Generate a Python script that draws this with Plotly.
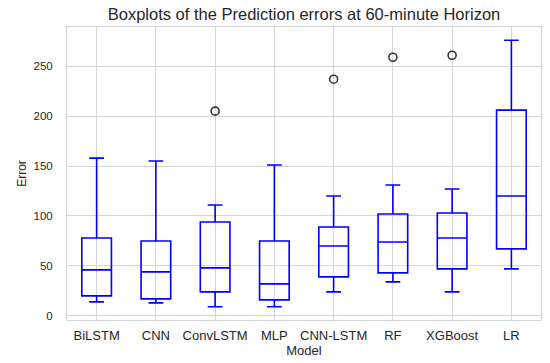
import plotly.graph_objects as go

models = ["BiLSTM", "CNN", "ConvLSTM", "MLP", "CNN-LSTM", "RF", "XGBoost", "LR"]
lower_whisker = [14, 13, 9, 9, 24, 34, 24, 47]
q1 = [20, 17, 24, 16, 39, 43, 47, 67]
median = [46, 44, 48, 32, 70, 74, 78, 120]
q3 = [78, 75, 94, 75, 89, 102, 103, 206]
upper_whisker = [158, 155, 111, 151, 120, 131, 127, 276]
outlier_models = ["ConvLSTM", "CNN-LSTM", "RF", "XGBoost"]
outlier_values = [205, 237, 259, 261]

BLUE = "#0000ff"
GRID = "#d5d5d5"
TEXT = "#262626"

fig = go.Figure()
fig.add_trace(go.Box(
    x=models,
    q1=q1, median=median, q3=q3,
    lowerfence=lower_whisker, upperfence=upper_whisker,
    line=dict(color=BLUE, width=1.6),
    fillcolor="rgba(0,0,0,0)",
    width=0.5,
    whiskerwidth=0.5,
    boxpoints=False,
    showlegend=False,
))
fig.add_trace(go.Scatter(
    x=outlier_models, y=outlier_values, mode="markers",
    marker=dict(symbol="circle-open", size=8, color="#333333", line=dict(width=1.6)),
    showlegend=False,
))

fig.update_layout(
    width=550, height=363,
    margin=dict(l=67, r=9, t=27, b=43),
    paper_bgcolor="white", plot_bgcolor="white",
    font=dict(family="Liberation Sans, Arial, sans-serif", size=12, color=TEXT),
    title=dict(text="Boxplots of the Prediction errors at 60-minute Horizon",
               x=(67 + 541) / 2 / 550, xanchor="center", y=1 - 14 / 363, yanchor="middle",
               font=dict(size=16.5, color=TEXT)),
    xaxis=dict(title=dict(text="Model", standoff=4, font=dict(size=13)),
               tickfont=dict(size=13), automargin=False,
               categoryorder="array", categoryarray=models,
               range=[-0.5, 7.5],
               showgrid=True, gridcolor=GRID, gridwidth=1,
               showline=True, linecolor=GRID, mirror=True, linewidth=1,
               ticks="", ticklabelstandoff=3, zeroline=False),
    yaxis=dict(title=dict(text="Error", standoff=4, font=dict(size=12)),
               tickfont=dict(size=11.5), automargin=False,
               range=[-4.2, 289.3],
               tickvals=[0, 50, 100, 150, 200, 250],
               showgrid=True, gridcolor=GRID, gridwidth=1,
               showline=True, linecolor=GRID, mirror=True, linewidth=1,
               ticks="outside", ticklen=11, tickcolor="rgba(0,0,0,0)", zeroline=False),
)

fig.write_html("out.html", config={"displayModeBar": False},
               post_script="document.body.style.margin='0';")
